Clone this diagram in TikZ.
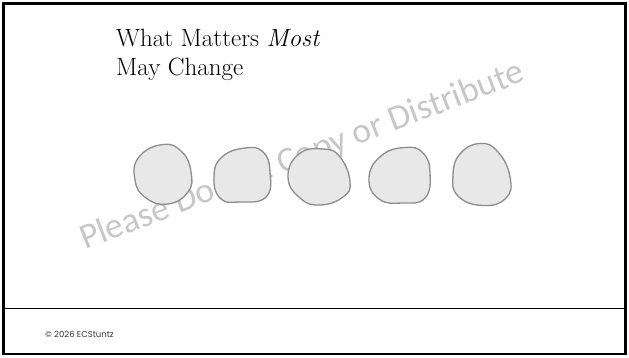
\documentclass[tikz,border=0pt]{standalone}
\usepackage{fontspec}
\newfontfamily\markfont{Carlito}
\newfontfamily\footfont{Poppins}

\begin{document}
\begin{tikzpicture}[x=1pt,y=-1pt]
\tikzset{blob/.style={draw=black!45, fill=black!9, line width=1.3pt},
         mark text/.style={text=black!22, font=\markfont\fontsize{35.5}{40}\selectfont, inner sep=0pt}}

\useasboundingbox (0,0) rectangle (629,358);
\draw[line width=2.2pt] (3.5,3.5) rectangle (625.5,354); % cadre de la page
\draw[line width=.8pt] (3.5,308) -- (625.5,308);

\node[anchor=base west, inner sep=0pt, align=left, font=\fontsize{25}{29}\selectfont] (title) at (116,75.5)
    {What Matters \textit{Most}\\May Change};

% le filigrane, sous les formes
\node[mark text, anchor=base west, rotate=21] (mark) at (85,250) {Please Do Not Copy or Distribute};

\draw[blob] plot[smooth cycle, tension=.8] coordinates {(163,144.5) (182,152) (191,172) (188,192) (168,204) (146,198) (135,180) (139,157)};
\draw[blob] plot[smooth cycle, tension=.8] coordinates {(245,148) (263,152) (270,172) (266,197) (240,202) (220,198) (214,176) (222,157)};
\draw[blob] plot[smooth cycle, tension=.8] coordinates {(323,149) (340,157) (350,182) (343,197) (320,205) (300,198) (288,177) (299,154)};
\draw[blob] plot[smooth cycle, tension=.8] coordinates {(405,147.5) (423,153) (430,173) (425,198) (403,203) (379,199) (369,178) (381,156)};
\draw[blob] plot[smooth cycle, tension=.8] coordinates {(480,143.5) (498,152) (510,177) (506,198) (483,205.5) (458,196) (453,175) (460,154)};

\node[anchor=west, inner sep=0pt, text=black!80, font=\footfont\fontsize{8.5}{10}\selectfont] (foot) at (45,334) {© 2026 ECStuntz};

\end{tikzpicture}
\end{document}
